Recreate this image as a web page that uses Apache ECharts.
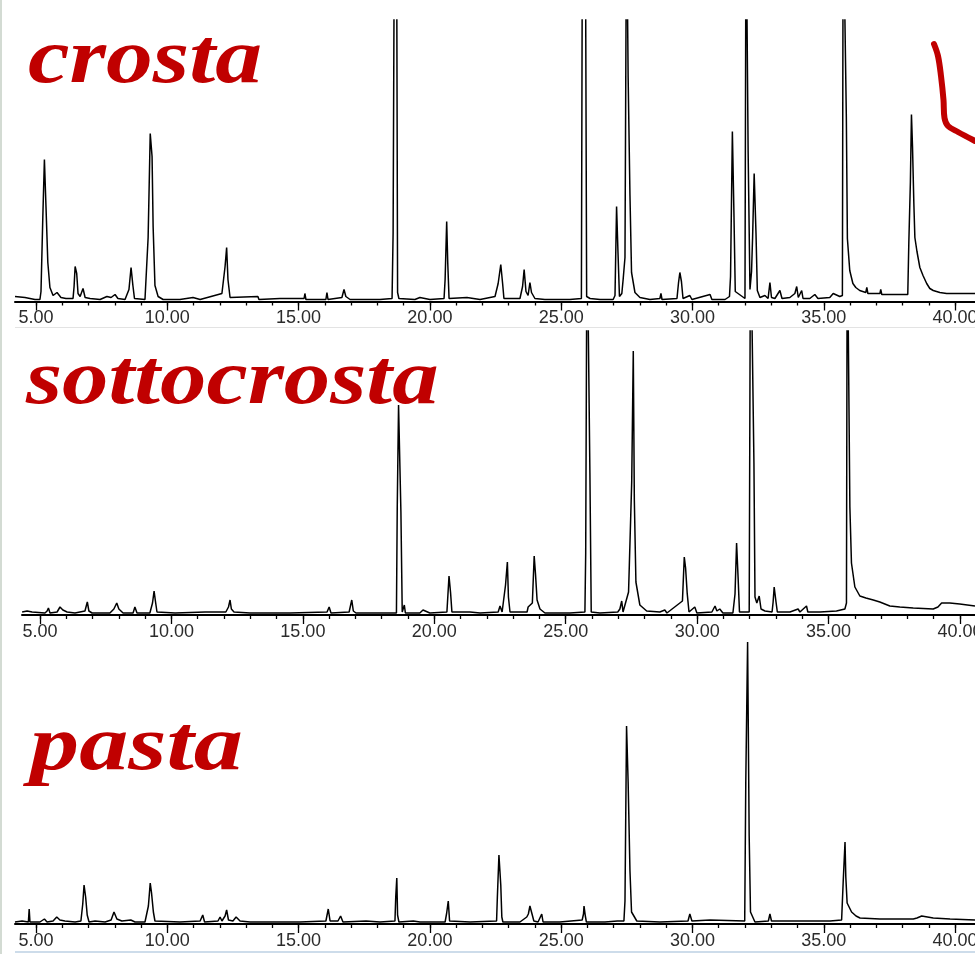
<!DOCTYPE html>
<html>
<head>
<meta charset="utf-8">
<script src="https://cdn.jsdelivr.net/npm/echarts@6/dist/echarts.min.js"></script>
<style>
  html, body { margin: 0; padding: 0; background: #fff; }
  #chart { width: 975px; height: 954px; }
</style>
</head>
<body>
<div id="chart"></div>
<script>
/* ------------------------------------
    GC chromatograms: crosta / sottocrosta / pasta
------------------------------------ */

// sample names, written by hand on the slide
const sampleNames = ['crosta', 'sottocrosta', 'pasta'];

// retention time axis (min)
const majorTicks = [5, 10, 15, 20, 25, 30, 35, 40];
const minorTicks = [5, 6, 7, 8, 9, 10, 11, 12, 13, 14, 15, 16, 17, 18, 19, 20, 21, 22,
    23, 24, 25, 26, 27, 28, 29, 30, 31, 32, 33, 34, 35, 36, 37, 38, 39, 40];

// [time, abundance] -- abundances above the panel top are cut off, like the original
const crosta = [
    [4.20, 5], [4.58, 4], [4.96, 2], [5.15, 2], [5.19, 10], [5.26, 85], [5.32, 142], [5.34, 142],
    [5.38, 95], [5.45, 39], [5.53, 14], [5.65, 6], [5.80, 9], [5.95, 4], [6.14, 3], [6.41, 3],
    [6.45, 15], [6.49, 35], [6.55, 28], [6.60, 8], [6.68, 5], [6.79, 13], [6.87, 4], [7.06, 3],
    [7.44, 2], [7.70, 5], [7.86, 4], [8.01, 7], [8.12, 3], [8.39, 2], [8.54, 12], [8.62, 34],
    [8.69, 16], [8.75, 3], [9.15, 2], [9.27, 64], [9.35, 168], [9.42, 145], [9.46, 75], [9.53, 16],
    [9.65, 5], [9.84, 2], [10.48, 2], [10.98, 4], [11.25, 2], [12.08, 8], [12.20, 35], [12.26, 54],
    [12.31, 22], [12.39, 4], [13.45, 5], [13.49, 2], [14.29, 3], [15.21, 3], [15.24, 8], [15.28, 2],
    [16.04, 2], [16.08, 9], [16.12, 2], [16.65, 4], [16.73, 12], [16.80, 5], [16.96, 2], [18.10, 2],
    [18.56, 3], [18.60, 69], [18.65, 400], [18.73, 400], [18.77, 9], [18.82, 3], [19.43, 2], [19.62, 4],
    [20.00, 2], [20.54, 3], [20.58, 22], [20.64, 80], [20.68, 39], [20.73, 3], [21.41, 4], [21.91, 2],
    [22.48, 5], [22.60, 18], [22.70, 37], [22.77, 18], [22.82, 3], [23.43, 3], [23.53, 15], [23.59, 32],
    [23.66, 10], [23.74, 6], [23.81, 19], [23.87, 9], [24.00, 3], [24.38, 2], [25.33, 2], [25.77, 3],
    [25.81, 400], [25.92, 400], [25.97, 5], [26.10, 3], [26.48, 2], [26.98, 2], [27.05, 6], [27.11, 95],
    [27.16, 52], [27.22, 5], [27.31, 8], [27.36, 22], [27.43, 44], [27.49, 400], [27.52, 400], [27.55, 225],
    [27.62, 106], [27.68, 29], [27.81, 9], [28.00, 4], [28.38, 2], [28.76, 3], [28.80, 8], [28.84, 2],
    [29.41, 3], [29.47, 19], [29.52, 29], [29.58, 20], [29.64, 3], [29.90, 6], [29.98, 2], [30.67, 7],
    [30.74, 2], [31.24, 2], [31.41, 5], [31.45, 25], [31.52, 170], [31.58, 87], [31.63, 10], [32.00, 3],
    [32.04, 400], [32.08, 400], [32.12, 150], [32.19, 12], [32.25, 30], [32.29, 64], [32.35, 128], [32.42, 68],
    [32.47, 11], [32.57, 4], [32.76, 6], [32.88, 3], [32.95, 19], [33.01, 4], [33.14, 3], [33.33, 11],
    [33.41, 3], [33.71, 4], [33.90, 8], [33.97, 15], [34.03, 4], [34.16, 11], [34.21, 3], [34.47, 3],
    [34.66, 7], [34.78, 3], [35.23, 4], [35.36, 8], [35.61, 5], [35.71, 6], [35.74, 400], [35.80, 400],
    [35.86, 185], [35.90, 63], [35.99, 31], [36.11, 18], [36.22, 14], [36.37, 11], [36.60, 9], [36.64, 14],
    [36.68, 8], [37.14, 8], [37.17, 12], [37.21, 7], [37.71, 7], [38.20, 7], [38.24, 59], [38.30, 120],
    [38.34, 187], [38.38, 155], [38.43, 99], [38.47, 64], [38.55, 50], [38.66, 34], [38.78, 26], [38.92, 18],
    [39.04, 13], [39.17, 11], [39.42, 9], [39.68, 8], [40.19, 8], [40.76, 8]
];

const sottocrosta = [
    [4.32, 3], [4.51, 4], [4.70, 3], [5.19, 2], [5.27, 4], [5.32, 7], [5.38, 2], [5.65, 3],
    [5.76, 8], [5.87, 5], [6.03, 3], [6.33, 2], [6.71, 4], [6.80, 13], [6.86, 4], [6.98, 2],
    [7.66, 2], [7.81, 6], [7.92, 12], [8.00, 6], [8.16, 2], [8.54, 2], [8.61, 8], [8.69, 2],
    [9.18, 2], [9.28, 12], [9.34, 24], [9.39, 14], [9.45, 3], [10.14, 2], [11.28, 3], [12.07, 3],
    [12.17, 8], [12.23, 15], [12.28, 6], [12.38, 3], [12.99, 2], [14.51, 2], [15.92, 3], [16.00, 8],
    [16.07, 2], [16.76, 3], [16.86, 15], [16.92, 4], [17.02, 2], [17.93, 2], [18.56, 2], [18.59, 106],
    [18.64, 210], [18.68, 210], [18.73, 103], [18.78, 3], [18.86, 10], [18.90, 2], [19.45, 2], [19.57, 5],
    [19.83, 2], [20.48, 3], [20.56, 39], [20.62, 22], [20.67, 3], [21.36, 3], [21.74, 2], [22.43, 3],
    [22.50, 9], [22.58, 3], [22.71, 30], [22.78, 53], [22.82, 18], [22.88, 3], [23.53, 3], [23.57, 8],
    [23.73, 12], [23.80, 59], [23.85, 41], [23.91, 15], [24.02, 6], [24.21, 2], [25.16, 2], [25.73, 3],
    [25.76, 62], [25.81, 400], [25.88, 400], [25.92, 142], [25.97, 3], [26.30, 2], [26.98, 3], [27.06, 6],
    [27.13, 14], [27.18, 3], [27.39, 23], [27.42, 50], [27.51, 133], [27.57, 264], [27.61, 115], [27.67, 33],
    [27.82, 10], [28.08, 4], [28.58, 3], [28.77, 5], [28.85, 2], [29.44, 14], [29.51, 58], [29.56, 47],
    [29.62, 22], [29.69, 3], [29.91, 8], [29.99, 2], [30.56, 3], [30.68, 9], [30.75, 4], [30.86, 6],
    [30.98, 2], [31.36, 2], [31.44, 21], [31.50, 72], [31.56, 36], [31.61, 3], [31.98, 3], [32.03, 400],
    [32.10, 400], [32.16, 152], [32.20, 18], [32.27, 12], [32.36, 19], [32.43, 6], [32.58, 4], [32.85, 3],
    [32.89, 13], [32.93, 28], [33.00, 13], [33.05, 3], [33.53, 3], [33.84, 6], [33.91, 3], [34.16, 9],
    [34.21, 3], [34.67, 3], [35.30, 4], [35.62, 6], [35.68, 12], [35.71, 400], [35.77, 400], [35.81, 108],
    [35.87, 52], [36.00, 28], [36.19, 19], [36.42, 17], [36.70, 15], [36.95, 13], [37.33, 9], [37.71, 8],
    [38.22, 7], [38.98, 6], [39.16, 8], [39.30, 12], [39.61, 12], [39.99, 11], [40.57, 9]
];

const pasta = [
    [4.20, 2], [4.47, 3], [4.71, 2], [4.74, 15], [4.77, 2], [5.15, 2], [5.32, 5], [5.42, 2],
    [5.65, 3], [5.79, 7], [5.91, 4], [6.10, 3], [6.49, 2], [6.71, 3], [6.78, 20], [6.83, 39],
    [6.89, 27], [6.95, 9], [7.02, 2], [7.25, 3], [7.63, 2], [7.86, 4], [7.97, 12], [8.08, 5],
    [8.27, 3], [8.61, 4], [8.77, 2], [9.15, 2], [9.28, 18], [9.35, 41], [9.40, 31], [9.47, 12],
    [9.53, 3], [10.48, 2], [11.25, 3], [11.35, 9], [11.42, 2], [11.93, 3], [12.01, 7], [12.08, 3],
    [12.20, 8], [12.26, 14], [12.33, 4], [12.50, 3], [12.62, 7], [12.77, 3], [13.15, 2], [15.05, 2],
    [16.04, 3], [16.13, 15], [16.20, 3], [16.50, 3], [16.60, 8], [16.69, 2], [17.57, 3], [18.10, 2],
    [18.67, 3], [18.70, 27], [18.74, 46], [18.77, 9], [18.82, 2], [19.37, 3], [19.62, 2], [20.58, 2],
    [20.64, 11], [20.70, 23], [20.75, 3], [21.53, 2], [22.54, 3], [22.57, 27], [22.63, 69], [22.70, 39],
    [22.74, 7], [22.78, 2], [23.43, 2], [23.69, 7], [23.75, 10], [23.81, 18], [23.88, 11], [23.96, 3],
    [24.12, 2], [24.19, 3], [24.26, 10], [24.31, 2], [24.95, 2], [25.80, 4], [25.85, 10], [25.87, 18],
    [25.92, 8], [25.96, 2], [26.67, 2], [27.14, 3], [27.39, 3], [27.43, 23], [27.49, 198], [27.55, 142],
    [27.62, 53], [27.68, 12], [27.88, 3], [28.76, 2], [29.83, 3], [29.90, 10], [29.98, 3], [30.67, 4],
    [30.74, 2], [31.99, 3], [32.03, 141], [32.10, 282], [32.16, 88], [32.21, 12], [32.38, 2], [32.89, 3],
    [32.95, 10], [33.01, 3], [33.84, 3], [34.16, 3], [35.24, 3], [35.68, 4], [35.74, 42], [35.81, 82],
    [35.84, 47], [35.89, 21], [36.06, 12], [36.23, 8], [36.38, 6], [37.14, 5], [38.41, 5], [38.55, 6],
    [38.73, 8], [39.17, 6], [39.81, 5], [40.76, 4]
];

const traces = [crosta, sottocrosta, pasta];

// panel layout (pixels) and visible time window of each panel
const panels = [
    { left: 15, top: 20, height: 281.5, tMin: 4.20, tMax: 40.76, yMax: 281.5, label: [28, 86, 1.2] },
    { left: 22, top: 331, height: 284, tMin: 4.315, tMax: 40.57, yMax: 284, label: [26, 407, 1.19] },
    { left: 15, top: 641, height: 283, tMin: 4.20, tMax: 40.76, yMax: 283, label: [30, 773, 1.26] }
];

var dom = document.getElementById('chart');
var myChart = echarts.init(dom, null, { renderer: 'canvas' });

var grids = [], xAxes = [], yAxes = [], series = [], graphics = [];

panels.forEach(function (p, i) {
    grids.push({ left: p.left, top: p.top, right: 0, height: p.height, containLabel: false, outerBoundsMode: 'none' });

    // labels + 1 min ticks
    xAxes.push({
        type: 'value', gridIndex: i, position: 'bottom',
        min: p.tMin, max: p.tMax,
        axisLine: { show: true, onZero: false, lineStyle: { color: '#000', width: 2 } },
        axisTick: { show: true, customValues: minorTicks, length: 4, lineStyle: { color: '#000', width: 1.3 } },
        axisLabel: {
            show: true, customValues: majorTicks, margin: 8, hideOverlap: false,
            fontFamily: 'Liberation Sans', fontSize: 18, color: '#2b2b2b',
            formatter: function (v) { return v.toFixed(2); }
        },
        splitLine: { show: false }
    });
    // longer 5 min ticks
    xAxes.push({
        type: 'value', gridIndex: i, position: 'bottom',
        min: p.tMin, max: p.tMax,
        axisLine: { show: false },
        axisTick: { show: true, customValues: majorTicks, length: 9, lineStyle: { color: '#000', width: 1.3 } },
        axisLabel: { show: false },
        splitLine: { show: false }
    });
    yAxes.push({ type: 'value', gridIndex: i, min: 0, max: p.yMax, show: false });

    series.push({
        name: sampleNames[i],
        type: 'line',
        xAxisIndex: i * 2,
        yAxisIndex: i,
        data: traces[i],
        showSymbol: false,
        clip: true,
        lineStyle: { color: '#000', width: 1.5 },
        animation: false
    });

    graphics.push({
        type: 'text',
        x: p.label[0], y: p.label[1] - 24,
        scaleX: p.label[2],
        style: {
            text: sampleNames[i],
            font: 'italic bold 78px "Liberation Serif"',
            fill: '#c00000',
            align: 'left',
            verticalAlign: 'middle'
        }
    });
});

// left border of the slide and thin separators
graphics.push({ type: 'rect', shape: { x: 0, y: 0, width: 2, height: 954 }, style: { fill: '#d3dbd3' } });
graphics.push({ type: 'line', shape: { x1: 15, y1: 327.5, x2: 975, y2: 327.5 }, style: { stroke: '#e3e3e3', lineWidth: 1 } });
graphics.push({ type: 'line', shape: { x1: 15, y1: 952, x2: 975, y2: 952 }, style: { stroke: '#cddcea', lineWidth: 2 } });

// red pen mark, top right
graphics.push({
    type: 'polyline',
    shape: {
        points: [[934, 44], [938, 56], [941, 76], [943.5, 100], [944.5, 118], [948, 126], [958, 132], [975, 141]],
        smooth: 0.35
    },
    style: { stroke: '#c00000', lineWidth: 6, lineCap: 'round', lineJoin: 'round', fill: null }
});

var option = {
    backgroundColor: '#fff',
    animation: false,
    grid: grids,
    xAxis: xAxes,
    yAxis: yAxes,
    series: series,
    graphic: graphics
};

if (option && typeof option === 'object') {
    myChart.setOption(option);
}
</script>
</body>
</html>
